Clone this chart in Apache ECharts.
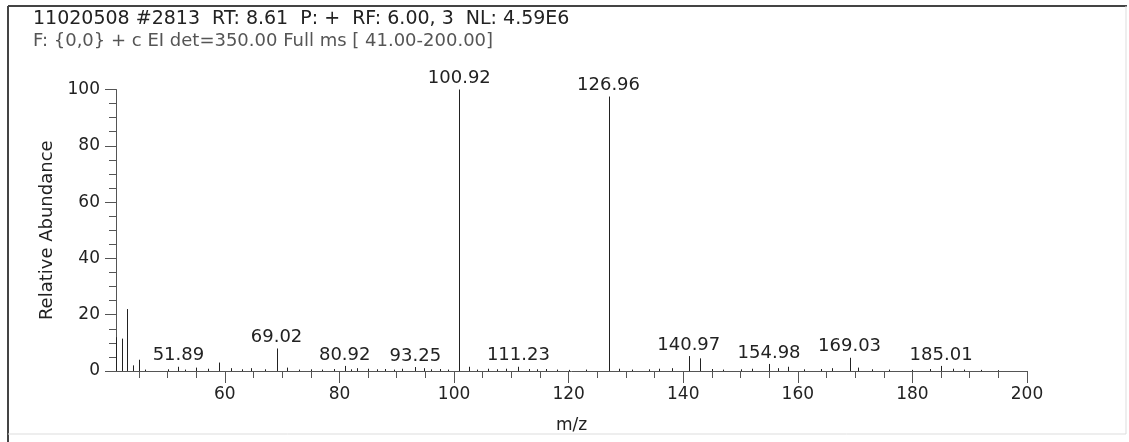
<!DOCTYPE html>
<html>
<head>
<meta charset="utf-8">
<script src="https://cdn.jsdelivr.net/npm/echarts@6/dist/echarts.min.js"></script>
<style>
html,body{margin:0;padding:0;background:#fff;}
#chart{width:1129px;height:442px;}
</style>
</head>
<body>
<div id="chart"></div>
<script>
// ---- data ----
const headerLine1 = "11020508 #2813  RT: 8.61  P: +  RF: 6.00, 3  NL: 4.59E6";
const headerLine2 = "F: {0,0} + c EI det=350.00 Full ms [ 41.00-200.00]";
const xAxisTitle = "m/z";
const yAxisTitle = "Relative Abundance";

const peakMz = [41.0, 42.0, 43.0, 44.0, 45.0, 46.0, 50.0, 51.89, 53.0, 55.0, 57.0, 59.0, 61.0, 63.0, 64.5, 67.0,
  69.02, 70.9, 73.0, 75.0, 77.0, 79.0, 80.92, 82.0, 83.0, 85.0, 86.5, 88.0, 89.5, 91.0, 93.25, 94.8, 96.0, 97.5, 99.0,
  100.92, 102.6, 104.0, 106.0, 107.5, 109.0, 111.23, 113.0, 114.5, 116.0, 118.0, 120.0, 123.0,
  126.96, 128.8, 131.0, 134.0, 135.8, 138.0, 140.97, 143.0, 145.0, 147.0, 150.0, 152.0, 154.98, 156.5, 158.2,
  161.0, 164.0, 166.0, 169.03, 170.5, 173.0, 176.0, 180.0, 183.0, 185.01, 187.0, 189.0, 192.0, 195.0];
const peakAbundance = [12, 11.5, 22, 2, 4, 0.5, 0.6, 1.5, 0.5, 1.2, 0.8, 3, 1, 0.6, 1, 0.6,
  8, 1.2, 0.5, 0.6, 0.5, 0.7, 1.8, 0.6, 1, 0.8, 0.6, 0.7, 0.5, 0.8, 1.4, 1, 0.6, 0.7, 0.5,
  100, 1.5, 0.5, 0.8, 0.6, 0.8, 1.5, 0.7, 0.6, 0.7, 0.5, 0.4, 0.5,
  97.5, 0.8, 0.5, 0.6, 0.8, 1, 5.3, 4.5, 0.7, 0.5, 0.6, 0.8, 2.5, 1, 1.5,
  0.6, 0.7, 1, 4.7, 1.2, 0.6, 0.5, 0.4, 0.7, 1.8, 0.8, 0.5, 0.4, 0.3];
const labeledMz = [51.89, 69.02, 80.92, 93.25, 100.92, 111.23, 126.96, 140.97, 154.98, 169.03, 185.01];

const xMajorTicks = [60, 80, 100, 120, 140, 160, 180, 200];
const xMinorTicks = [45, 50, 55, 65, 70, 75, 85, 90, 95, 105, 110, 115, 125, 130, 135, 145, 150, 155, 165, 170, 175, 185, 190, 195];
const yMin = 0, yMax = 100, yInterval = 20;
const xMin = 41, xMax = 200;

// ---- build ----
const seriesData = peakMz.map((m, i) => [m, peakAbundance[i], labeledMz.indexOf(m) >= 0 ? m.toFixed(2) : '']);

const FONT = 'DejaVu Sans';
const chart = echarts.init(document.getElementById('chart'), null, {renderer: 'canvas'});
const option = {
  animation: false,
  backgroundColor: '#fff',
  grid: {left: 116, right: 102, top: 89.5, bottom: 71},
  xAxis: [{
    type: 'value', min: xMin, max: xMax, position: 'bottom',
    axisLine: {show: true, lineStyle: {color: '#555', width: 1}},
    axisTick: {show: true, length: 12, customValues: xMajorTicks, lineStyle: {color: '#555'}},
    axisLabel: {customValues: xMajorTicks, margin: 15, color: '#222', fontSize: 17, fontFamily: FONT},
    splitLine: {show: false},
    name: xAxisTitle, nameLocation: 'middle', nameGap: 46,
    nameTextStyle: {color: '#222', fontSize: 17, fontFamily: FONT}
  }, {
    type: 'value', min: xMin, max: xMax, position: 'bottom',
    axisLine: {show: false},
    axisTick: {show: true, length: 7, customValues: xMinorTicks, lineStyle: {color: '#555'}},
    axisLabel: {show: false},
    splitLine: {show: false}
  }],
  yAxis: {
    type: 'value', min: yMin, max: yMax, interval: yInterval,
    axisLine: {show: true, lineStyle: {color: '#555', width: 1}},
    axisTick: {show: true, length: 11, lineStyle: {color: '#555'}},
    minorTick: {show: true, splitNumber: 4, length: 7, lineStyle: {color: '#555'}},
    axisLabel: {margin: 16, color: '#222', fontSize: 17, fontFamily: FONT},
    splitLine: {show: false},
    name: yAxisTitle, nameLocation: 'middle', nameGap: 55, nameRotate: 90,
    nameTextStyle: {color: '#222', fontSize: 18, fontFamily: FONT}
  },
  graphic: [
    {type: 'line', shape: {x1: 8, y1: 6, x2: 1127, y2: 6}, style: {stroke: '#444', lineWidth: 2}},
    {type: 'line', shape: {x1: 8, y1: 6, x2: 8, y2: 442}, style: {stroke: '#444', lineWidth: 2}},
    {type: 'line', shape: {x1: 1126, y1: 6, x2: 1126, y2: 434}, style: {stroke: '#ddd', lineWidth: 1}},
    {type: 'line', shape: {x1: 8, y1: 434, x2: 1126, y2: 434}, style: {stroke: '#ddd', lineWidth: 1}},
    {type: 'text', left: 33, top: 10, style: {text: headerLine1, fill: '#222', font: '19px "' + FONT + '"'}},
    {type: 'text', left: 33, top: 32, style: {text: headerLine2, fill: '#555', font: '18px "' + FONT + '"'}}
  ],
  series: [{
    type: 'custom',
    xAxisIndex: 0, yAxisIndex: 0,
    data: seriesData,
    encode: {x: 0, y: 1},
    clip: false,
    renderItem: function (params, api) {
      const base = api.coord([api.value(0), 0]);
      const top = api.coord([api.value(0), api.value(1)]);
      const label = seriesData[params.dataIndex][2];
      const children = [{
        type: 'line',
        shape: {x1: Math.round(base[0]) + 0.5, y1: base[1], x2: Math.round(top[0]) + 0.5, y2: top[1]},
        style: {stroke: '#222', lineWidth: 1}
      }];
      if (label) {
        children.push({
          type: 'text',
          style: {text: label, x: top[0], y: top[1] - 2, align: 'center', verticalAlign: 'bottom',
                  fill: '#222', font: '18px "' + FONT + '"'}
        });
      }
      return {type: 'group', children: children};
    }
  }]
};
chart.setOption(option);
</script>
</body>
</html>
